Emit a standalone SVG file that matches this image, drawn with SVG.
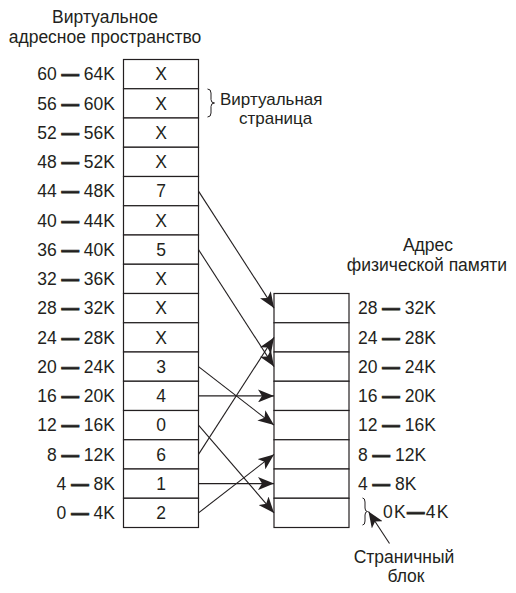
<svg xmlns="http://www.w3.org/2000/svg" width="516" height="593" viewBox="0 0 516 593">
<style>
text{font-family:"Liberation Sans",Arial,sans-serif;fill:#231f20}
.t{font-size:17.5px}
.s{font-size:17px}
.l{font-size:17.5px}
.r{text-anchor:end}
.m{text-anchor:middle}
.d{font-weight:700;stroke:#231f20;stroke-width:0.8}
.c{fill:#fff;stroke:#231f20;stroke-width:1.2}
.a{stroke:#231f20;stroke-width:1.1;fill:none;marker-end:url(#ah)}
.b{stroke:#231f20;stroke-width:1;fill:none}
</style>
<defs>
<marker id="ah" viewBox="0 0 16 13" refX="16" refY="6.5" markerWidth="16" markerHeight="13" markerUnits="userSpaceOnUse" orient="auto">
<path d="M0,0 L16,6.5 L0,13 L4,6.5 z" fill="#231f20"/>
</marker>
</defs>
<g id="virtual-title">
<text class="t m" x="105" y="23">Виртуальное</text>
<text class="t m" x="105" y="43">адресное пространство</text>
</g>
<g id="physical-title">
<text class="t m" x="428" y="251">Адрес</text>
<text class="t m" x="427" y="271">физической памяти</text>
</g>
<g id="virtual-page-label">
<path class="b" d="M207.5,89 Q211,89 211,93 L211,99.5 Q211,103 214.5,103 Q211,103 211,106.5 L211,113 Q211,117 207.5,117"/>
<text class="s" x="220" y="105">Виртуальная</text>
<text class="s" x="239" y="124">страница</text>
</g>
<g id="virtual-table">
<g id="v15"><rect class="c" x="123.5" y="59.5" width="75" height="29.25"/><text class="l m" x="161" y="80.3">X</text><text class="l r" x="115" y="80.3">60 <tspan class="d">—</tspan> 64K</text></g>
<g id="v14"><rect class="c" x="123.5" y="88.75" width="75" height="29.25"/><text class="l m" x="161" y="109.6">X</text><text class="l r" x="115" y="109.6">56 <tspan class="d">—</tspan> 60K</text></g>
<g id="v13"><rect class="c" x="123.5" y="118" width="75" height="29.25"/><text class="l m" x="161" y="138.8">X</text><text class="l r" x="115" y="138.8">52 <tspan class="d">—</tspan> 56K</text></g>
<g id="v12"><rect class="c" x="123.5" y="147.25" width="75" height="29.25"/><text class="l m" x="161" y="168.1">X</text><text class="l r" x="115" y="168.1">48 <tspan class="d">—</tspan> 52K</text></g>
<g id="v11"><rect class="c" x="123.5" y="176.5" width="75" height="29.25"/><text class="l m" x="161" y="197.3">7</text><text class="l r" x="115" y="197.3">44 <tspan class="d">—</tspan> 48K</text></g>
<g id="v10"><rect class="c" x="123.5" y="205.75" width="75" height="29.25"/><text class="l m" x="161" y="226.6">X</text><text class="l r" x="115" y="226.6">40 <tspan class="d">—</tspan> 44K</text></g>
<g id="v9"><rect class="c" x="123.5" y="235" width="75" height="29.25"/><text class="l m" x="161" y="255.8">5</text><text class="l r" x="115" y="255.8">36 <tspan class="d">—</tspan> 40K</text></g>
<g id="v8"><rect class="c" x="123.5" y="264.25" width="75" height="29.25"/><text class="l m" x="161" y="285.1">X</text><text class="l r" x="115" y="285.1">32 <tspan class="d">—</tspan> 36K</text></g>
<g id="v7"><rect class="c" x="123.5" y="293.5" width="75" height="29.25"/><text class="l m" x="161" y="314.3">X</text><text class="l r" x="115" y="314.3">28 <tspan class="d">—</tspan> 32K</text></g>
<g id="v6"><rect class="c" x="123.5" y="322.75" width="75" height="29.25"/><text class="l m" x="161" y="343.6">X</text><text class="l r" x="115" y="343.6">24 <tspan class="d">—</tspan> 28K</text></g>
<g id="v5"><rect class="c" x="123.5" y="352" width="75" height="29.25"/><text class="l m" x="161" y="372.8">3</text><text class="l r" x="115" y="372.8">20 <tspan class="d">—</tspan> 24K</text></g>
<g id="v4"><rect class="c" x="123.5" y="381.25" width="75" height="29.25"/><text class="l m" x="161" y="402.1">4</text><text class="l r" x="115" y="402.1">16 <tspan class="d">—</tspan> 20K</text></g>
<g id="v3"><rect class="c" x="123.5" y="410.5" width="75" height="29.25"/><text class="l m" x="161" y="431.3">0</text><text class="l r" x="115" y="431.3">12 <tspan class="d">—</tspan> 16K</text></g>
<g id="v2"><rect class="c" x="123.5" y="439.75" width="75" height="29.25"/><text class="l m" x="161" y="460.6">6</text><text class="l r" x="115" y="460.6">8 <tspan class="d">—</tspan> 12K</text></g>
<g id="v1"><rect class="c" x="123.5" y="469" width="75" height="29.25"/><text class="l m" x="161" y="489.8">1</text><text class="l r" x="115" y="489.8">4 <tspan class="d">—</tspan> 8K</text></g>
<g id="v0"><rect class="c" x="123.5" y="498.25" width="75" height="29.25"/><text class="l m" x="161" y="519.1">2</text><text class="l r" x="115" y="519.1">0 <tspan class="d">—</tspan> 4K</text></g>
</g>
<g id="physical-table">
<g id="p7"><rect class="c" x="274" y="293.5" width="75" height="29.25"/><text class="l" x="358" y="314.3">28 <tspan class="d">—</tspan> 32K</text></g>
<g id="p6"><rect class="c" x="274" y="322.75" width="75" height="29.25"/><text class="l" x="358" y="343.6">24 <tspan class="d">—</tspan> 28K</text></g>
<g id="p5"><rect class="c" x="274" y="352" width="75" height="29.25"/><text class="l" x="358" y="372.8">20 <tspan class="d">—</tspan> 24K</text></g>
<g id="p4"><rect class="c" x="274" y="381.25" width="75" height="29.25"/><text class="l" x="358" y="402.1">16 <tspan class="d">—</tspan> 20K</text></g>
<g id="p3"><rect class="c" x="274" y="410.5" width="75" height="29.25"/><text class="l" x="358" y="431.3">12 <tspan class="d">—</tspan> 16K</text></g>
<g id="p2"><rect class="c" x="274" y="439.75" width="75" height="29.25"/><text class="l" x="358" y="460.6">8 <tspan class="d">—</tspan> 12K</text></g>
<g id="p1"><rect class="c" x="274" y="469" width="75" height="29.25"/><text class="l" x="358" y="489.8">4 <tspan class="d">—</tspan> 8K</text></g>
<g id="p0"><rect class="c" x="274" y="498.25" width="75" height="29.25"/><text class="l" x="383" y="518" letter-spacing="1.3">0K<tspan class="d">—</tspan>4K</text></g>
</g>
<g id="frame-label">
<path class="b" d="M362.5,498 Q365,498 365,502 L365,508 Q365,511.5 367.5,511.5 Q365,511.5 365,515 L365,521 Q365,525 362.5,525"/>
<text class="t m" x="404" y="563">Страничный</text>
<text class="t m" x="406" y="582">блок</text>
</g>
<g id="connectors">
<line class="a" x1="198.5" y1="191.1" x2="274" y2="308.1"/>
<line class="a" x1="198.5" y1="249.6" x2="274" y2="366.6"/>
<line class="a" x1="198.5" y1="366.6" x2="274" y2="425.1"/>
<line class="a" x1="198.5" y1="395.9" x2="274" y2="395.9"/>
<line class="a" x1="198.5" y1="425.1" x2="274" y2="512.9"/>
<line class="a" x1="198.5" y1="454.4" x2="274" y2="337.4"/>
<line class="a" x1="198.5" y1="483.6" x2="274" y2="483.6"/>
<line class="a" x1="198.5" y1="512.9" x2="274" y2="454.4"/>
<line class="a" x1="389.5" y1="543.5" x2="368.5" y2="511.5"/>
</g>
</svg>
